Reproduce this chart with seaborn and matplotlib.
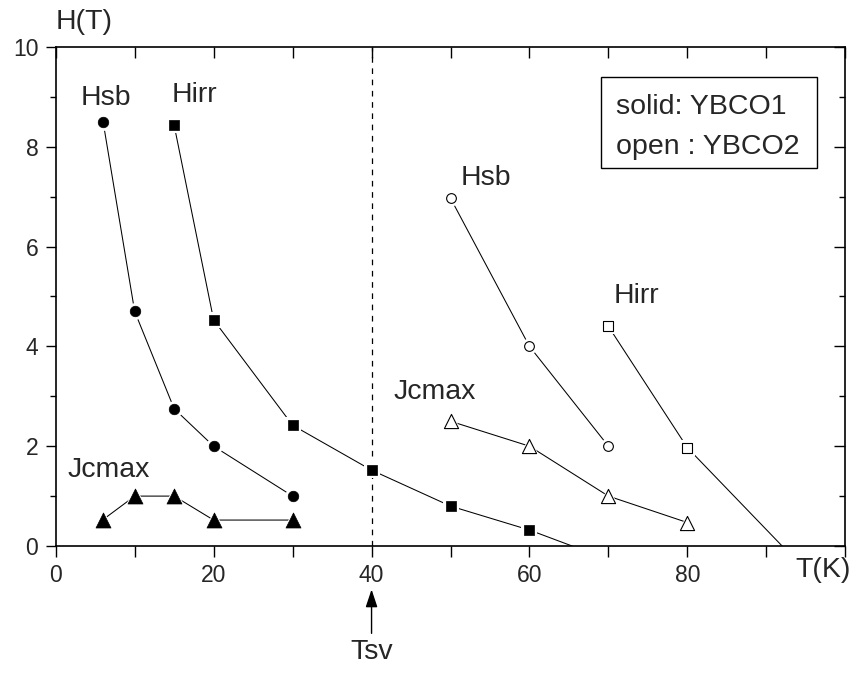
import matplotlib
matplotlib.use("Agg")
import matplotlib.pyplot as plt
from matplotlib.patches import Rectangle
from matplotlib.ticker import MultipleLocator
import pandas as pd
import seaborn as sns

# YBCO1 (solid symbols)
t_hsb1 = [6, 10, 15, 20, 30]
h_hsb1 = [8.5, 4.7, 2.75, 2.0, 1.0]
t_hirr1 = [15, 20, 30, 40, 50, 60]
h_hirr1 = [8.43, 4.53, 2.42, 1.52, 0.8, 0.32]
hirr1_zero_t = 65.4          # where the Hirr curve reaches H = 0
t_jc1 = [6, 10, 15, 20, 30]
h_jc1 = [0.53, 1.0, 1.0, 0.52, 0.52]

# YBCO2 (open symbols)
t_hsb2 = [50, 60, 70]
h_hsb2 = [6.97, 4.0, 2.0]
t_hirr2 = [70, 80]
h_hirr2 = [4.4, 1.97]
hirr2_zero_t = 92.0
t_jc2 = [50, 60, 70, 80]
h_jc2 = [2.5, 2.0, 1.0, 0.47]

t_sv = 40

sns.set_style("ticks")
plt.rcParams["font.family"] = ["Liberation Sans", "DejaVu Sans"]

fig = plt.figure(figsize=(8.56, 6.75), dpi=100)
ax = fig.add_axes([0.0651, 0.1911, 0.9224, 0.7393])

LW = 0.75

def curve(t, h, marker, ms, filled, tail=None):
    lt, lh = list(t), list(h)
    if tail is not None:
        lt.append(tail)
        lh.append(0.0)
    line_df = pd.DataFrame({"T": lt, "H": lh})
    sns.lineplot(data=line_df, x="T", y="H", ax=ax, color="black", lw=LW,
                 sort=False, estimator=None, zorder=2)
    df = pd.DataFrame({"T": t, "H": h})
    # white halo leaves a small gap between line and symbol
    sns.scatterplot(data=df, x="T", y="H", ax=ax, marker=marker,
                    s=(ms + 4.5) ** 2, color="white", edgecolor="white",
                    linewidth=0, zorder=3)
    if filled:
        sns.scatterplot(data=df, x="T", y="H", ax=ax, marker=marker,
                        s=ms ** 2, color="black", edgecolor="black",
                        linewidth=0.5, zorder=4)
    else:
        sns.scatterplot(data=df, x="T", y="H", ax=ax, marker=marker,
                        s=ms ** 2, color="white", edgecolor="black",
                        linewidth=0.8, zorder=4)

curve(t_hsb1, h_hsb1, "o", 7.6, True)
curve(t_hirr1, h_hirr1, "s", 7.0, True, tail=hirr1_zero_t)
curve(t_jc1, h_jc1, "^", 10.8, True)
curve(t_hsb2, h_hsb2, "o", 7.0, False)
curve(t_hirr2, h_hirr2, "s", 7.3, False, tail=hirr2_zero_t)
curve(t_jc2, h_jc2, "^", 10.2, False)

ax.axvline(t_sv, color="black", lw=0.9, ls=(0, (4.5, 4.5)), zorder=1)

ax.set_xlim(0, 100)
ax.set_ylim(0, 10)
ax.set_xlabel("")
ax.set_ylabel("")

ax.xaxis.set_major_locator(MultipleLocator(20))
ax.xaxis.set_minor_locator(MultipleLocator(10))
ax.yaxis.set_major_locator(MultipleLocator(2))
ax.yaxis.set_minor_locator(MultipleLocator(1))
ax.set_xticks([0, 20, 40, 60, 80])
ax.set_xticks([10, 30, 50, 70, 90, 100], minor=True)

ax.tick_params(axis="x", which="both", direction="out", length=8, width=1,
               labelsize=16.5, pad=5, top=False, color="black")
ax.tick_params(axis="y", which="major", direction="out", length=7.5, width=1,
               labelsize=16.5, pad=5, right=False, color="black")
ax.tick_params(axis="y", which="minor", direction="out", length=4.5, width=1,
               right=False, color="black")

for side in ["left", "right", "top", "bottom"]:
    ax.spines[side].set_visible(True)
    ax.spines[side].set_linewidth(1.2)
    ax.spines[side].set_color("black")

# inward ticks on the top and right frame
top = ax.secondary_xaxis("top")
top.set_xticks(range(0, 101, 10))
top.tick_params(direction="in", length=8, width=1, labeltop=False, color="black")
top.xaxis.set_minor_locator(plt.NullLocator())
top.spines["top"].set_visible(False)
right = ax.secondary_yaxis("right")
right.set_yticks(range(0, 11, 2))
right.set_yticks(range(1, 11, 2), minor=True)
right.tick_params(which="major", direction="in", length=8, width=1,
                  labelright=False, color="black")
right.tick_params(which="minor", direction="in", length=4.5, width=1,
                  labelright=False, color="black")
right.spines["right"].set_visible(False)

fs = 20.5
ax.text(6.4, 8.97, "Hsb", fontsize=fs, ha="center", va="center")
ax.text(17.6, 9.04, "Hirr", fontsize=fs, ha="center", va="center")
ax.text(6.7, 1.52, "Jcmax", fontsize=fs, ha="center", va="center")
ax.text(54.5, 7.37, "Hsb", fontsize=fs, ha="center", va="center")
ax.text(73.6, 5.0, "Hirr", fontsize=fs, ha="center", va="center")
ax.text(48.0, 3.09, "Jcmax", fontsize=fs, ha="center", va="center")

# sample key
ax.add_patch(Rectangle((69.0, 7.57), 27.45, 1.83, fill=False, lw=1.0,
                       edgecolor="black", zorder=5))
ax.text(71.0, 8.8, "solid: YBCO1", fontsize=fs, ha="left", va="center")
ax.text(71.0, 8.0, "open : YBCO2", fontsize=fs, ha="left", va="center")

# axis titles
ax.text(0, 1.05, "H(T)", fontsize=fs, ha="left", va="center",
        transform=ax.transAxes)
ax.text(1.0065, -0.048, "T(K)", fontsize=fs, ha="right", va="center",
        transform=ax.transAxes)

# Tsv marker below the axis
xt = ax.get_xaxis_transform()
ax.annotate("", xy=(t_sv, -0.087), xytext=(t_sv, -0.175), xycoords=xt,
            textcoords=xt, annotation_clip=False,
            arrowprops=dict(arrowstyle="-|>,head_length=0.9,head_width=0.3",
                            mutation_scale=12, lw=1.0, color="black",
                            shrinkA=0, shrinkB=0))
ax.text(t_sv, -0.212, "Tsv", fontsize=fs, ha="center", va="center",
        transform=xt)

fig.savefig("out.png", dpi=100)
